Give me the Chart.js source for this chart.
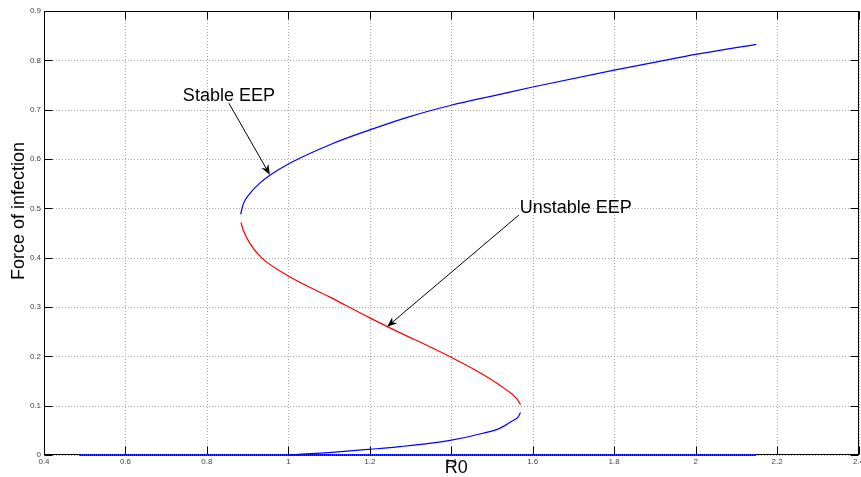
<!DOCTYPE html>
<html><head><meta charset="utf-8">
<script src="https://cdn.jsdelivr.net/npm/chart.js@4.4.0/dist/chart.umd.min.js"></script>
<style>html,body{margin:0;padding:0;background:#fff}#wrap{width:861px;height:477px}</style>
</head><body><div id="wrap"><canvas id="c" width="861" height="477"></canvas></div>
<script>
// ---- data ----
const xTicks = [0.4,0.6,0.8,1.0,1.2,1.4,1.6,1.8,2.0,2.2,2.4];
const xTickLabels = ['0.4','0.6','0.8','1','1.2','1.4','1.6','1.8','2','2.2','2.4'];
const yTicks = [0,0.1,0.2,0.3,0.4,0.5,0.6,0.7,0.8,0.9];
const yTickLabels = ['0','0.1','0.2','0.3','0.4','0.5','0.6','0.7','0.8','0.9'];

// Stable EEP, upper branch
const upperR0 = [0.883,0.889,0.9055,0.930,0.9546,1.0,1.102,1.2,1.298,1.4,1.519,1.6,1.8,1.912,2.0,2.149];
const upperF  = [0.488,0.508,0.530,0.551,0.567,0.590,0.629,0.659,0.686,0.709,0.731,0.746,0.780,0.798,0.812,0.8325];
// Unstable EEP, middle branch
const midR0 = [0.8835,0.889,0.9055,0.934,1.0,1.102,1.2,1.2736,1.347,1.4,1.478,1.535,1.56,1.57];
const midF  = [0.4717,0.456,0.429,0.400,0.363,0.320,0.278,0.248,0.2195,0.198,0.163,0.132,0.115,0.102];
// Stable, lower branch
const lowR0 = [1.0,1.1,1.2,1.2736,1.4,1.478,1.519,1.552,1.564,1.57];
const lowF  = [0.0,0.005,0.0115,0.0168,0.030,0.044,0.054,0.070,0.077,0.086];
// Disease-free equilibrium
const dfeR0 = [0.486,2.149];
const dfeF  = [0,0];

// annotations (data coordinates)
const annTexts = ['Stable EEP','Unstable EEP'];
const annTextPos = [[0.741,0.7176],[1.568,0.4906]];
const annArrowFrom = [[0.854,0.713],[1.5663,0.4865]];
const annArrowTo = [[0.9546,0.568],[1.2425,0.260]];
const xTitle = 'R0';
const yTitle = 'Force of infection';

const pts = (xs, ys) => xs.map((v,i)=>({x:v,y:ys[i]}));
const FONT = '"Liberation Sans", Arial, Helvetica, sans-serif';

const decor = {
  id:'decor',
  beforeDatasetsDraw(chart){
    const {ctx, chartArea:a, scales:{x,y}} = chart;
    ctx.save();
    ctx.strokeStyle = '#a8a8a8'; ctx.lineWidth = 1; ctx.setLineDash([1,2]);
    xTicks.forEach(v=>{const px=Math.round(x.getPixelForValue(v))+0.5;ctx.beginPath();ctx.moveTo(px,a.top);ctx.lineTo(px,a.bottom);ctx.stroke();});
    yTicks.forEach(v=>{const py=Math.round(y.getPixelForValue(v))+0.5;ctx.beginPath();ctx.moveTo(a.left,py);ctx.lineTo(a.right,py);ctx.stroke();});
    ctx.setLineDash([]);
    ctx.strokeStyle='#000'; ctx.lineWidth=1;
    const L=Math.round(a.left)+0.5, R=Math.round(a.right)-0.5, T=Math.round(a.top)+0.5, B=Math.round(a.bottom)-0.5;
    ctx.strokeRect(L,T,R-L,B-T);
    const tl=8;
    xTicks.forEach(v=>{const px=Math.round(x.getPixelForValue(v))+0.5;ctx.beginPath();ctx.moveTo(px,B);ctx.lineTo(px,B-tl);ctx.moveTo(px,T);ctx.lineTo(px,T+tl);ctx.stroke();});
    yTicks.forEach(v=>{const py=Math.round(y.getPixelForValue(v))+0.5;ctx.beginPath();ctx.moveTo(L,py);ctx.lineTo(L+tl,py);ctx.moveTo(R,py);ctx.lineTo(R-tl,py);ctx.stroke();});
    ctx.restore();
  },
  afterDatasetsDraw(chart){
    const {ctx, chartArea:a, scales:{x,y}} = chart;
    ctx.save();
    ctx.fillStyle='#000'; ctx.strokeStyle='#000'; ctx.lineWidth=1;
    ctx.font = '18px '+FONT;
    ctx.textAlign='left'; ctx.textBaseline='alphabetic';
    annTexts.forEach((t,i)=>{
      ctx.fillText(t, x.getPixelForValue(annTextPos[i][0]), y.getPixelForValue(annTextPos[i][1]));
      const x1=x.getPixelForValue(annArrowFrom[i][0]), y1=y.getPixelForValue(annArrowFrom[i][1]);
      const x2=x.getPixelForValue(annArrowTo[i][0]), y2=y.getPixelForValue(annArrowTo[i][1]);
      const ang=Math.atan2(y2-y1,x2-x1);
      const hl=10, hw=4;
      ctx.beginPath(); ctx.moveTo(x1,y1); ctx.lineTo(x2-Math.cos(ang)*6,y2-Math.sin(ang)*6); ctx.stroke();
      const bx=x2-Math.cos(ang)*hl, by=y2-Math.sin(ang)*hl;
      const nx=x2-Math.cos(ang)*hl*0.7, ny=y2-Math.sin(ang)*hl*0.7;
      ctx.beginPath();
      ctx.moveTo(x2,y2);
      ctx.lineTo(bx-Math.sin(ang)*hw, by+Math.cos(ang)*hw);
      ctx.lineTo(nx,ny);
      ctx.lineTo(bx+Math.sin(ang)*hw, by-Math.cos(ang)*hw);
      ctx.closePath(); ctx.fill();
    });
    ctx.textAlign='center';
    ctx.fillText(xTitle, (a.left+a.right)/2+5, a.bottom+18);
    ctx.save();
    ctx.translate(19, 211); ctx.rotate(-Math.PI/2);
    ctx.textBaseline='middle';
    ctx.fillText(yTitle, 0, 0);
    ctx.restore();
    ctx.restore();
  }
};

new Chart(document.getElementById('c'), {
  type:'scatter',
  data:{datasets:[
    {data:pts(dfeR0,dfeF), showLine:true, borderColor:'#0000ff', borderWidth:2, pointRadius:0, clip:false, order:2},
    {data:pts(dfeR0,dfeF), showLine:true, borderColor:'#ff0000', borderWidth:2, borderDash:[1,1], pointRadius:0, clip:false, order:1},
    {data:pts(upperR0,upperF), showLine:true, borderColor:'#0000ff', borderWidth:1.2, pointRadius:0, cubicInterpolationMode:'monotone', clip:false, order:0},
    {data:pts(midR0,midF), showLine:true, borderColor:'#ff0000', borderWidth:1.2, pointRadius:0, cubicInterpolationMode:'monotone', clip:false, order:0},
    {data:pts(lowR0,lowF), showLine:true, borderColor:'#0000ff', borderWidth:1.2, pointRadius:0, cubicInterpolationMode:'monotone', clip:false, order:0}
  ]},
  options:{
    responsive:false, animation:false, devicePixelRatio:1,
    layout:{padding:{top:11,right:2.5,left:0,bottom:0}},
    plugins:{legend:{display:false}, tooltip:{enabled:false}},
    scales:{
      x:{type:'linear', min:0.4, max:2.4,
         afterBuildTicks:s=>{s.ticks=xTicks.map(v=>({value:v}));},
         afterFit:s=>{s.height=22; s.paddingLeft=0; s.paddingRight=0;},
         grid:{display:false, drawTicks:false}, border:{display:false},
         ticks:{padding:2, maxRotation:0, autoSkip:false, color:'#444', font:{size:8, family:FONT},
                callback:(v,i)=>xTickLabels[i]}},
      y:{type:'linear', min:0, max:0.9,
         afterBuildTicks:s=>{s.ticks=yTicks.map(v=>({value:v}));},
         afterFit:s=>{s.width=44; s.paddingTop=0; s.paddingBottom=0;},
         grid:{display:false, drawTicks:false}, border:{display:false},
         ticks:{padding:3, autoSkip:false, color:'#444', font:{size:8, family:FONT},
                callback:(v,i)=>yTickLabels[i]}}
    }
  },
  plugins:[decor]
});
</script></body></html>
